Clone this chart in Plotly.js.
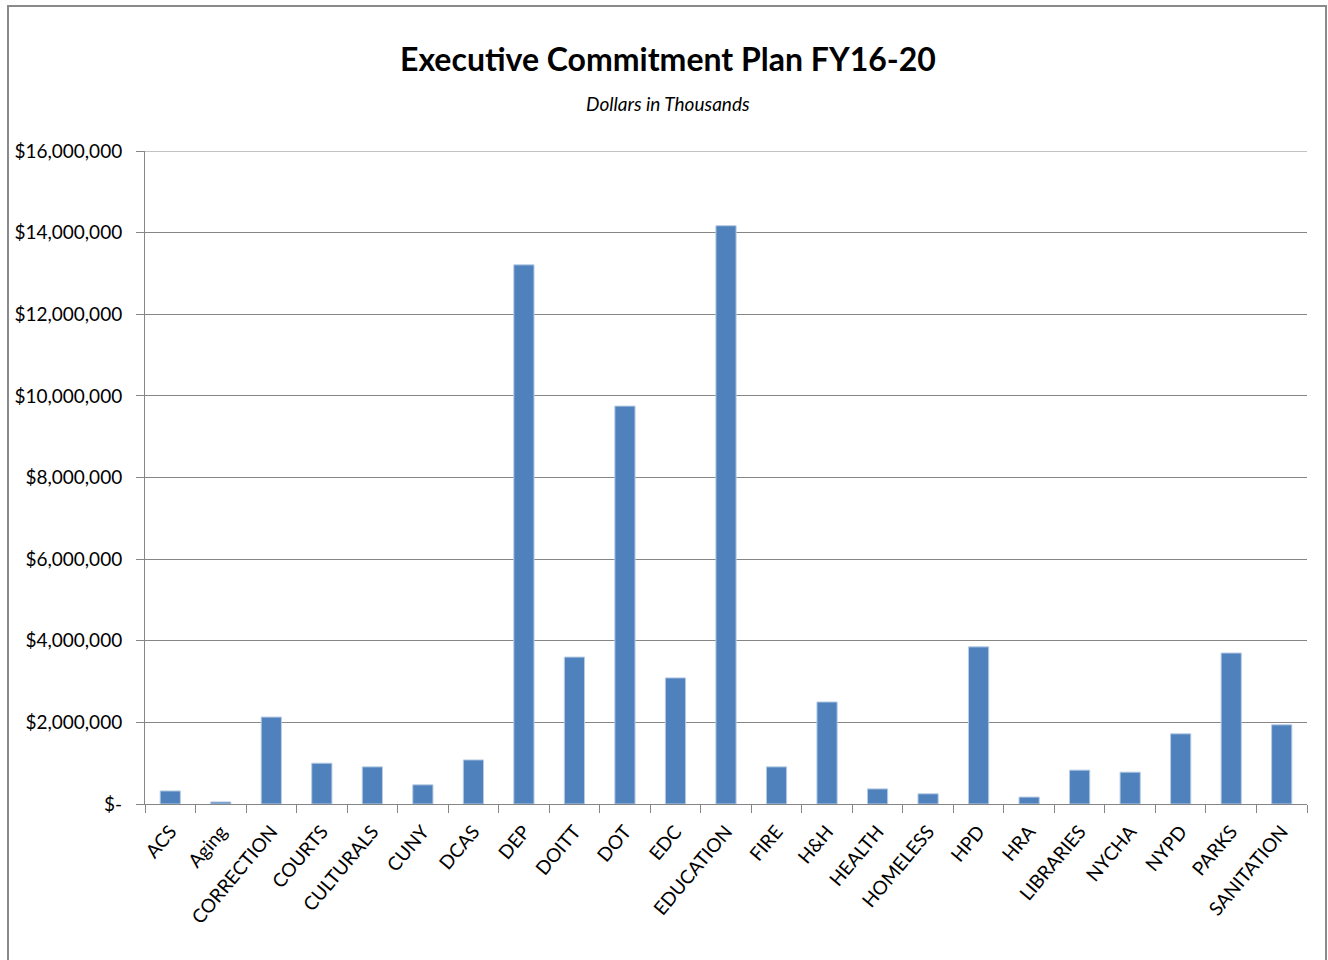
<!DOCTYPE html>
<html><head><meta charset="utf-8">
<script src="https://cdn.plot.ly/plotly-3.0.1.min.js"></script>
<style>html,body{margin:0;padding:0;background:#fff}</style>
</head><body><div id="chart" style="width:1328px;height:960px"></div>
<script>
const categories = ["ACS","Aging","CORRECTION","COURTS","CULTURALS","CUNY","DCAS","DEP","DOITT","DOT","EDC","EDUCATION","FIRE","H&H","HEALTH","HOMELESS","HPD","HRA","LIBRARIES","NYCHA","NYPD","PARKS","SANITATION"];
const commitments = [320000,50000,2130000,1000000,910000,470000,1080000,13210000,3600000,9750000,3090000,14170000,910000,2500000,370000,250000,3850000,170000,830000,780000,1720000,3700000,1940000];
const yTickVals = [0,2000000,4000000,6000000,8000000,10000000,12000000,14000000,16000000];
const yTickText = ["$-","$2,000,000","$4,000,000","$6,000,000","$8,000,000","$10,000,000","$12,000,000","$14,000,000","$16,000,000"];

const font = "Lato, 'Open Sans', sans-serif";
Plotly.newPlot('chart', [{
  type:'bar', x:categories, y:commitments,
  marker:{color:'#4F81BD', line:{color:'#b8cce4', width:1}},
  hoverinfo:'x+y'
}], {
  width:1328, height:960,
  margin:{l:145, r:21, t:151, b:156},
  paper_bgcolor:'#fff', plot_bgcolor:'#fff',
  bargap:0.6,
  showlegend:false,
  font:{family:font, color:'#000'},
  xaxis:{type:'category', tickangle:-50, tickfont:{size:19, family:font, color:'#000'},
    showgrid:false, showline:true, linecolor:'#868686', linewidth:1,
    ticks:'outside', tickson:'boundaries', ticklen:8, tickcolor:'#868686', tickwidth:1,
    ticklabelstandoff:8},
  yaxis:{range:[0,16000000], tickvals:yTickVals, ticktext:yTickText,
    tickfont:{size:19, family:font, color:'#000'}, showgrid:true, gridcolor:'#868686', gridwidth:1,
    showline:true, linecolor:'#868686', linewidth:1, ticks:'outside', ticklen:8, tickcolor:'#868686',
    ticklabelstandoff:10, zeroline:false, fixedrange:true},
  annotations:[
    {text:'<b>Executive Commitment Plan FY16-20</b>', xref:'paper', yref:'paper',
     x:(668-145)/1162, y:(804-58)/653, xanchor:'center', yanchor:'middle', showarrow:false,
     font:{size:32, family:font, color:'#000'}},
    {text:'<i>Dollars in Thousands</i>', xref:'paper', yref:'paper',
     x:(668-145)/1162, y:(804-103)/653, xanchor:'center', yanchor:'middle', showarrow:false,
     font:{size:19, family:font, color:'#000'}}
  ],
  shapes:[
    {type:'line', xref:'paper', yref:'y', x0:0, x1:1, y0:16000000, y1:16000000,
     line:{color:'#868686', width:1}},
    {type:'rect', xref:'paper', yref:'paper', x0:(8-145)/1162, x1:(1326-145)/1162,
    y0:-0.4, y1:(804-6)/653, line:{color:'#8a8a8a', width:2}, fillcolor:'rgba(0,0,0,0)'}]
}, {displayModeBar:false, staticPlot:true});
</script></body></html>
